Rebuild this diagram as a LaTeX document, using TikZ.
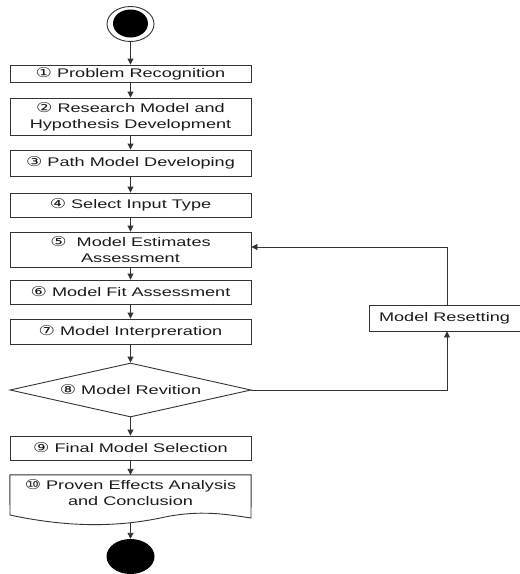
\documentclass[tikz,border=0pt]{standalone}
\usepackage{fontspec}
\setmainfont[FakeStretch=1.45]{Liberation Sans}
\newfontfamily\circfont[FakeStretch=1.35]{DejaVu Sans}
\usetikzlibrary{arrows.meta,shapes.geometric,calc}
\newcommand\cnum[1]{{\fontsize{13.5}{16}\circfont #1}}
\definecolor{ln}{HTML}{333333}
\definecolor{tx}{HTML}{1A1A1A}
\tikzset{
  stepbox/.style={draw=ln, line width=0.9pt, rectangle, minimum width=241pt, inner sep=0pt, align=center, text=tx, font=\fontsize{12.5}{16}\selectfont},
  decbox/.style={draw=ln, line width=0.9pt, diamond, aspect=4.46, minimum width=241pt, minimum height=54pt, inner sep=0pt, text=tx, font=\fontsize{12.5}{16}\selectfont},
  plainbox/.style={rectangle, minimum width=241pt, inner sep=0pt, align=center, text=tx, font=\fontsize{12.5}{16}\selectfont},
  flow/.style={draw=ln, line width=0.9pt, -{Triangle[length=6pt,width=6pt]}},
}
\begin{document}
\begin{tikzpicture}[x=1pt,y=-1pt]
\useasboundingbox (0,0) rectangle (520,574);
% start
\node[ellipse, draw=ln, line width=0.9pt, minimum width=47pt, minimum height=35pt, inner sep=0pt] (start) at (130.5,24) {};
\fill[black] (130.5,23.5) ellipse [x radius=17.5pt, y radius=14pt];
% steps
\node[stepbox, minimum height=17pt] (b1) at (130.5,73.5) {\cnum{①} Problem Recognition};
\node[stepbox, minimum height=37pt] (b2) at (130.5,116.5) {\cnum{②} Research Model and\\Hypothesis Development};
\node[stepbox, minimum height=26pt] (b3) at (130.5,163) {\cnum{③} Path Model Developing};
\node[stepbox, minimum height=24pt] (b4) at (130.5,205) {\cnum{④} Select Input Type};
\node[stepbox, minimum height=35pt] (b5) at (130.5,249.5) {\cnum{⑤}\ \ Model Estimates\\Assessment};
\node[stepbox, minimum height=24pt] (b6) at (130.5,292) {\cnum{⑥} Model Fit Assessment};
\node[stepbox, minimum height=25pt] (b7) at (130.5,331.5) {\cnum{⑦} Model Interpreration};
\node[decbox] (d8) at (130.5,390) {\cnum{⑧} Model Revition};
\node[stepbox, minimum height=24pt] (b9) at (130.5,448) {\cnum{⑨} Final Model Selection};
\node[plainbox, minimum height=36pt] (b10) at (130.5,493) {\cnum{⑩} Proven Effects Analysis\\and Conclusion};
\draw[draw=ln, line width=0.9pt] (b10.north west) -- (b10.north east) -- (251,518)
  .. controls (225,514) and (200,510) .. (165,517)
  .. controls (120,527) and (70,528) .. (10,515) -- cycle;
\coordinate (b10b) at (130.5,522.5);
% end
\node[ellipse, fill=black, minimum width=48pt, minimum height=35pt, inner sep=0pt] (end) at (130.5,556.5) {};
% reset
\node[stepbox, minimum width=151pt, minimum height=26pt] (reset) at (444.5,318) {Model Resetting};
\coordinate (lx) at (447,0);
% arrows
\draw[flow] (start) -- (b1);
\draw[flow] (b1) -- (b2);
\draw[flow] (b2) -- (b3);
\draw[flow] (b3) -- (b4);
\draw[flow] (b4) -- (b5);
\draw[flow] (b5) -- (b6);
\draw[flow] (b6) -- (b7);
\draw[flow] (b7) -- (d8);
\draw[flow] (d8) -- (b9);
\draw[flow] (b9) -- (b10);
\draw[flow] (b10b) -- (end);
\draw[flow] (d8.east) -| (reset.south -| lx);
\draw[flow] (reset.north -| lx) |- ($(b5.east)+(0,-2.5)$);
\end{tikzpicture}
\end{document}
